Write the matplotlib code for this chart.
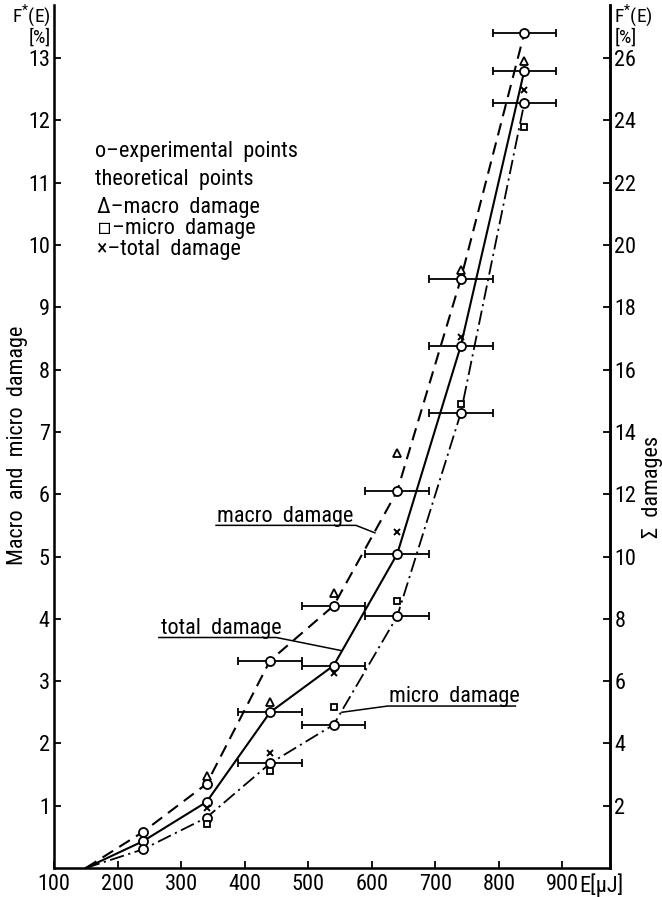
import matplotlib
matplotlib.use("Agg")
import matplotlib.pyplot as plt
from matplotlib import font_manager

# a narrow sans looks closest to the stencil lettering of the original
avail = {f.name for f in font_manager.fontManager.ttflist}
narrow = [n for n in ('Liberation Sans Narrow', 'Roboto Condensed', 'Open Sans Condensed',
                      'DejaVu Sans Condensed', 'Noto Sans Condensed') if n in avail]
if narrow:
    plt.rcParams['font.family'] = [narrow[0], 'DejaVu Sans']
    FS = 16
else:
    plt.rcParams['font.family'] = ['Roboto', 'DejaVu Sans']
    FS = 15
plt.rcParams['mathtext.default'] = 'regular'

# energy [uJ] and measured F*(E) [%] for the three curves
energy = [150, 240, 340, 440, 540, 640, 740, 840]
macro_exp = [0, 0.58, 1.35, 3.33, 4.21, 6.05, 9.45, 13.4]
total_exp = [0, 0.43, 1.06, 2.50, 3.25, 5.04, 8.38, 12.8]
micro_exp = [0, 0.30, 0.81, 1.68, 2.30, 4.04, 7.30, 12.28]
energy_err = [0, 0, 0, 50, 50, 50, 50, 50]

# theoretical points
theo_energy = [340, 440, 540, 640, 740, 840]
macro_theo = [1.47, 2.67, 4.42, 6.66, 9.60, 12.95]
micro_theo = [0.71, 1.56, 2.58, 4.29, 7.45, 11.90]
total_theo = [0.96, 1.85, 3.13, 5.39, 8.52, 12.49]

x_ticks = [100, 200, 300, 400, 500, 600, 700, 800, 900]
left_ticks = [1, 2, 3, 4, 5, 6, 7, 8, 9, 10, 11, 12, 13]
right_ticks = [2, 4, 6, 8, 10, 12, 14, 16, 18, 20, 22, 24, 26]

fig = plt.figure(figsize=(6.62, 8.97), dpi=100)
ax = fig.add_axes([0.0816, 0.0323, 0.84, 0.962])
ax.set_xlim(100, 975)
ax.set_ylim(0, 13.85)

# curves
ax.plot(energy, macro_exp, color='k', lw=1.5, dashes=(6, 3.5))
ax.plot(energy, total_exp, color='k', lw=1.5)
ax.plot(energy, micro_exp, color='k', lw=1.3, dashes=(8, 2.5, 1.2, 2.5))

# error bars on experimental points
for ys in (macro_exp, total_exp, micro_exp):
    xs = [e for e, d in zip(energy, energy_err) if d > 0]
    yy = [y for y, d in zip(ys, energy_err) if d > 0]
    dd = [d for d in energy_err if d > 0]
    ax.errorbar(xs, yy, xerr=dd, fmt='none', ecolor='k', elinewidth=1.3,
                capsize=3, capthick=1.3)
    ax.plot(energy[1:], ys[1:], 'o', ms=6.5, mfc='white', mec='k', mew=1.3,
            zorder=5)

ax.plot(theo_energy, macro_theo, '^', ms=5.5, mfc='white', mec='k', mew=1.3, zorder=6)
ax.plot(theo_energy, micro_theo, 's', ms=5, mfc='white', mec='k', mew=1.3, zorder=6)
ax.plot(theo_energy, total_theo, 'x', ms=4, mec='k', mew=1.4, zorder=6)

# axes styling
ax.spines['top'].set_visible(False)
for s in ('left', 'bottom', 'right'):
    ax.spines[s].set_linewidth(1.8)
ax.set_xticks(x_ticks)
ax.set_xticklabels([str(t) for t in x_ticks])
ax.set_yticks(left_ticks)
ax.tick_params(direction='in', length=5, width=1.3, labelsize=FS, pad=4)
ax.tick_params(axis='y', pad=3)

ax2 = ax.twinx()
ax2.set_ylim(0, 2 * 13.85)
ax2.set_yticks(right_ticks)
ax2.spines['top'].set_visible(False)
ax2.spines['right'].set_linewidth(1.8)
ax2.tick_params(direction='in', length=5, width=1.3, labelsize=FS, pad=3)

ax.annotate('E[\u03bcJ]', xy=(926, 0), xycoords=('data', 'axes fraction'),
            xytext=(0, -4), textcoords='offset points', ha='left', va='top',
            fontsize=FS)

# labels of the axes
fig.text(0.077, 0.997, 'F$^{*}$(E)\n[%]', ha='right', va='top', fontsize=FS - 2,
         linespacing=0.9)
fig.text(0.928, 0.997, 'F$^{*}$(E)\n[%]', ha='left', va='top', fontsize=FS - 2,
         linespacing=0.9)
fig.text(0.026, 0.503, 'Macro  and  micro  damage', rotation=90, ha='center',
         va='center', fontsize=FS)
fig.text(0.985, 0.457, '\u03a3  damages', rotation=90, ha='center',
         va='center', fontsize=FS)

# key
ax.text(165, 11.5, 'o\u2013experimental  points', fontsize=FS, va='center')
ax.text(165, 11.05, 'theoretical  points', fontsize=FS, va='center')
ax.text(167, 10.6, '\u0394\u2013macro  damage', fontsize=FS, va='center')
ax.text(167, 10.26, '\u25ab\u2013micro  damage', fontsize=FS, va='center')
ax.text(167, 9.92, '\u00d7\u2013total  damage', fontsize=FS, va='center')

# curve labels with leader lines
ax.text(357, 5.56, 'macro  damage', fontsize=FS, va='baseline')
ax.plot([355, 575, 605], [5.5, 5.5, 5.38], color='k', lw=1.1)
ax.text(268, 3.76, 'total  damage', fontsize=FS, va='baseline')
ax.plot([265, 450, 552], [3.7, 3.7, 3.49], color='k', lw=1.1)
ax.text(627, 2.66, 'micro  damage', fontsize=FS, va='baseline')
ax.plot([826, 625, 553], [2.6, 2.6, 2.5], color='k', lw=1.1)

fig.savefig('out.png', dpi=100)
